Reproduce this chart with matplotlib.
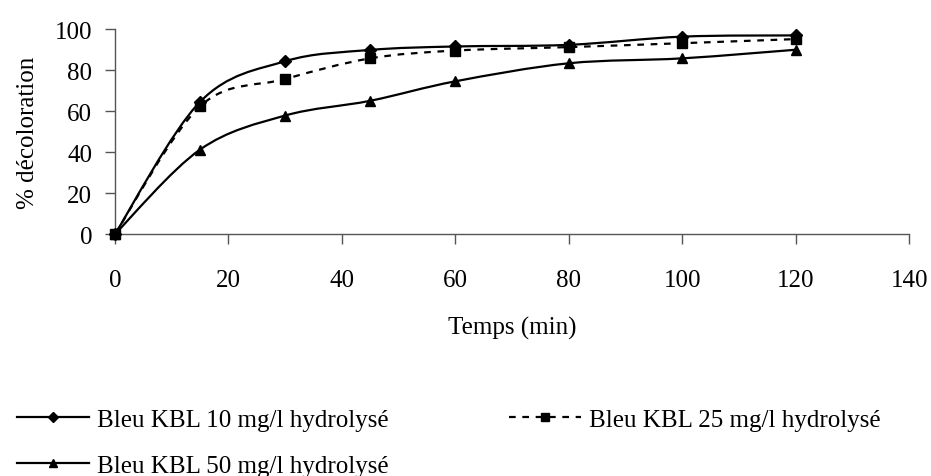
"""Décoloration du Bleu KBL hydrolysé en fonction du temps."""

import matplotlib
import matplotlib.pyplot as plt
from matplotlib.lines import Line2D
from matplotlib.path import Path
from matplotlib.patches import PathPatch

matplotlib.use("Agg")

plt.rcParams["font.family"] = ["Liberation Serif", "DejaVu Serif"]

temps = [0, 15, 30, 45, 60, 80, 100, 120]
kbl_10 = [0, 64.5, 84.3, 89.8, 91.5, 92.3, 96.3, 96.9]
kbl_25 = [0, 62.3, 75.6, 85.7, 89.5, 91.2, 93.1, 95.1]
kbl_50 = [0, 41.2, 57.8, 65.0, 74.5, 83.3, 85.7, 89.9]

labels = [
    "Bleu KBL 10 mg/l hydrolysé",
    "Bleu KBL 25 mg/l hydrolysé",
    "Bleu KBL 50 mg/l hydrolysé",
]

FS = 18


def smooth_path(xs, ys):
    """Excel-like smoothed line: cubic Bezier through every point."""
    pts = list(zip(xs, ys))
    verts = [pts[0]]
    codes = [Path.MOVETO]
    n = len(pts)
    for i in range(n - 1):
        p0 = pts[i - 1] if i > 0 else pts[i]
        p1 = pts[i]
        p2 = pts[i + 1]
        p3 = pts[i + 2] if i + 2 < n else pts[i + 1]
        c1 = (p1[0] + (p2[0] - p0[0]) / 6, p1[1] + (p2[1] - p0[1]) / 6)
        c2 = (p2[0] - (p3[0] - p1[0]) / 6, p2[1] - (p3[1] - p1[1]) / 6)
        verts += [c1, c2, p2]
        codes += [Path.CURVE4] * 3
    return Path(verts, codes)


fig = plt.figure(figsize=(9.31, 4.77), dpi=100)
ax = fig.add_axes([0.1235, 0.5073, 0.853, 0.4297])

styles = [
    (kbl_10, "D", 6, "-", 3),
    (kbl_25, "s", 6.5, (0, (3, 3)), 5),
    (kbl_50, "^", 7, "-", 4),
]

handles = []
for (vals, marker, ms, ls, z), label in zip(styles, labels):
    patch = PathPatch(smooth_path(temps, vals), facecolor="none",
                      edgecolor="black", linewidth=1.6, linestyle=ls)
    ax.add_patch(patch)
    ax.plot(temps, vals, linestyle="none", marker=marker, markersize=ms,
            color="black", zorder=z, clip_on=False)
    handles.append(Line2D([], [], color="black", linewidth=1.6, linestyle=ls,
                          marker=marker, markersize=ms * 0.8, label=label))

ax.set_xlim(0, 140)
ax.set_ylim(0, 100)
ax.set_xticks(range(0, 141, 20))
ax.set_yticks(range(0, 101, 20))
ax.spines["top"].set_visible(False)
ax.spines["right"].set_visible(False)
for side in ("left", "bottom"):
    ax.spines[side].set_color("#555555")
    ax.spines[side].set_linewidth(1.0)
ax.tick_params(direction="out", length=7, width=1.0, color="#555555",
               labelsize=FS)
ax.tick_params(axis="x", pad=18)
ax.tick_params(axis="y", pad=9.5)
ax.set_xlabel("Temps (min)", fontsize=FS, labelpad=18)
ax.set_ylabel("% décoloration", fontsize=FS, labelpad=11)

# column-major fill: first column gets 10 and 50, second gets 25
fig.legend(handles=[handles[0], handles[2], handles[1]],
           loc="upper left", bbox_to_anchor=(0.018, 0.141), ncol=2,
           frameon=False, fontsize=FS, borderaxespad=0, borderpad=0,
           handlelength=2.9, handletextpad=0.32,
           columnspacing=4.8, labelspacing=0.92)

fig.savefig("out.png", dpi=100)
